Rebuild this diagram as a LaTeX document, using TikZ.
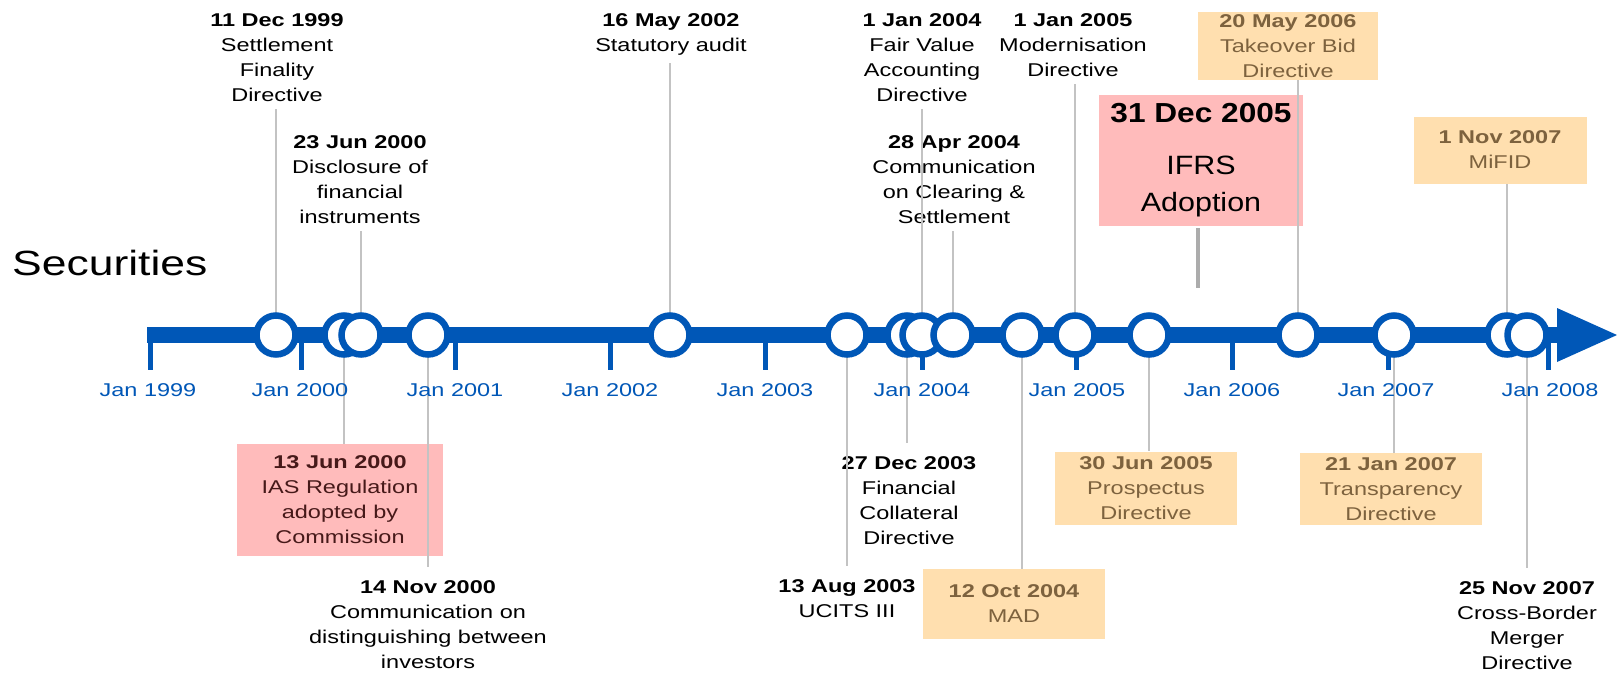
\documentclass[tikz,border=0pt]{standalone}
\usepackage{fontspec}
\setmainfont{Liberation Sans}[FakeStretch=1.27]
\newfontfamily\ifrsfont{Liberation Sans}[FakeStretch=1.15]
\usetikzlibrary{calc}
\definecolor{tlblue}{RGB}{0,87,183}
\definecolor{conngray}{RGB}{195,195,195}
\definecolor{ifrsgray}{RGB}{172,172,172}
\definecolor{pinkbox}{RGB}{255,187,187}
\definecolor{peachbox}{RGB}{255,223,175}
\definecolor{peachtext}{RGB}{125,98,62}
\definecolor{iastext}{RGB}{70,25,25}
\begin{document}
\begin{tikzpicture}[x=1pt,y=-1pt,
  lbl/.style={align=center,inner sep=0pt,anchor=north,font=\fontsize{18.5}{25}\selectfont},
  evbox/.style={align=center,inner sep=0pt,font=\fontsize{18.5}{25}\selectfont,fill=peachbox,text=peachtext},
  iasbox/.style={evbox,fill=pinkbox,text=iastext},
  conn/.style={draw=conngray,line width=2.5pt},
  upconn/.style={conn,shorten >=7pt},
  dnconn/.style={conn,shorten >=13pt},
  ifrsconn/.style={draw=ifrsgray,line width=4pt},
  evt/.style={circle,draw=tlblue,line width=6.5pt,fill=white,minimum size=39pt,inner sep=0pt},
  yearlbl/.style={text=tlblue,inner sep=0pt,font=\fontsize{18.5}{25}\selectfont},
  tickmark/.style={draw=tlblue,line width=5pt},
  barline/.style={draw=tlblue,line width=16.5pt}
]
\useasboundingbox[fill=white] (0,0) rectangle (1617,673);

% event points on the time axis
\coordinate (e1) at (276,335);
\coordinate (e2) at (344,335);
\coordinate (e3) at (361,335);
\coordinate (e4) at (428,335);
\coordinate (e5) at (670,335);
\coordinate (e6) at (847,335);
\coordinate (e7) at (907,335);
\coordinate (e8) at (922,335);
\coordinate (e9) at (953,335);
\coordinate (e10) at (1022,335);
\coordinate (e11) at (1075,335);
\coordinate (e12) at (1149,335);
\coordinate (e13) at (1298,335);
\coordinate (e14) at (1394,335);
\coordinate (e15) at (1507,335);
\coordinate (e16) at (1527,335);

% coloured boxes
\node[iasbox,minimum width=206pt,minimum height=112pt] (b2) at (340,500)
  {\textbf{13 Jun 2000}\\IAS Regulation\\adopted by\\Commission};
\node[evbox,minimum width=182pt,minimum height=70pt] (b10) at (1014,604)
  {\textbf{12 Oct 2004}\\MAD};
\node[evbox,minimum width=182pt,minimum height=73pt] (b12) at (1146,488)
  {\textbf{30 Jun 2005}\\Prospectus\\Directive};
\node[evbox,minimum width=180pt,minimum height=68pt] (b13) at (1288,46)
  {\textbf{20 May 2006}\\Takeover Bid\\Directive};
\node[evbox,minimum width=182pt,minimum height=72pt] (b14) at (1391,489)
  {\textbf{21 Jan 2007}\\Transparency\\Directive};
\node[evbox,minimum width=173pt,minimum height=67pt] (b15) at (1500,150)
  {\textbf{1 Nov 2007}\\MiFID};
\node[fill=pinkbox,minimum width=204pt,minimum height=131pt,inner sep=0pt,align=center,
      font=\ifrsfont\fontsize{26.5}{37}\selectfont] (ifrs) at (1201,160.5)
  {{\bfseries\fontsize{27.5}{37}\selectfont 31 Dec 2005}\\[15pt]IFRS\\Adoption};

% plain labels
\node[lbl] (l1) at (277,13.4) {\textbf{11 Dec 1999}\\Settlement\\Finality\\Directive};
\node[lbl] (l3) at (360,135.4) {\textbf{23 Jun 2000}\\Disclosure of\\financial\\instruments};
\node[lbl] (l4) at (428,580.4) {\textbf{14 Nov 2000}\\Communication on\\distinguishing between\\investors};
\node[lbl] (l5) at (671,13.4) {\textbf{16 May 2002}\\Statutory audit};
\node[lbl] (l6) at (847,579.4) {\textbf{13 Aug 2003}\\UCITS III};
\node[lbl] (l7) at (909,456.4) {\textbf{27 Dec 2003}\\Financial\\Collateral\\Directive};
\node[lbl] (l8) at (922,13.4) {\textbf{1 Jan 2004}\\Fair Value\\Accounting\\Directive};
\node[lbl] (l9) at (954,135.4) {\textbf{28 Apr 2004}\\Communication\\on Clearing \&\\Settlement};
\node[lbl] (l11) at (1073,13.4) {\textbf{1 Jan 2005}\\Modernisation\\Directive};
\node[lbl] (l16) at (1527,581.4) {\textbf{25 Nov 2007}\\Cross-Border\\Merger\\Directive};

% connectors
\draw[upconn] (e1) -- (e1 |- l1.south);
\draw[conn] (e2) -- (e2 |- b2.north);
\draw[upconn] (e3) -- (e3 |- l3.south);
\draw[dnconn] (e4) -- (e4 |- l4.north);
\draw[upconn] (e5) -- (e5 |- l5.south);
\draw[dnconn] (e6) -- (e6 |- l6.north);
\draw[dnconn] (e7) -- (e7 |- l7.north);
\draw[upconn] (e8) -- (e8 |- l8.south);
\draw[upconn] (e9) -- (e9 |- l9.south);
\draw[conn] (e10) -- (e10 |- b10.north);
\draw[upconn] (e11) -- (e11 |- l11.south);
\draw[conn] (e12) -- (e12 |- b12.north);
\draw[conn] (e13) -- (e13 |- b13.south);
\draw[conn] (e14) -- (e14 |- b14.north);
\draw[conn] (e15) -- (e15 |- b15.south);
\draw[dnconn] (e16) -- (e16 |- l16.north);
\coordinate (ifrsend) at (1198,288);
\draw[ifrsconn,shorten <=2pt] (ifrs.south -| ifrsend) -- (ifrsend);

% title
\node[anchor=west,inner sep=0pt,font=\fontsize{35}{40}\selectfont] (title) at (12,263) {Securities};

% axis
\coordinate (barstart) at (147,335);
\coordinate (barend) at (1558,335);
\draw[barline] (barstart) -- (barend);
\fill[tlblue] (1557,308) -- (1617,335) -- (1557,362) -- cycle;
\foreach \x in {150,301,455,610,765,922,1076,1232,1388,1548}
  \draw[tickmark] (\x,340) -- (\x,370);
\foreach \x/\yr in {148/1999,300/2000,455/2001,610/2002,765/2003,922/2004,1077/2005,1232/2006,1386/2007,1550/2008}
  \node[yearlbl] (y\yr) at (\x,390) {Jan \yr};

% event circles
\foreach \i in {1,...,16}
  \node[evt] (c\i) at (e\i) {};
\end{tikzpicture}
\end{document}
